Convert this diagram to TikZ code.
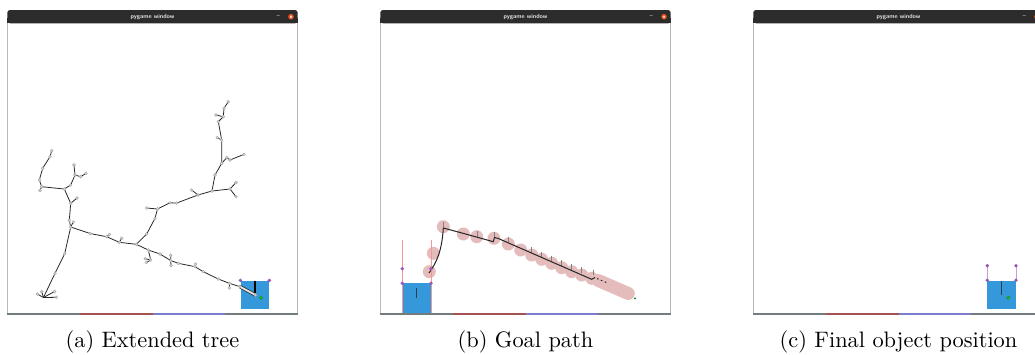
\documentclass[tikz,border=0pt]{standalone}
\usepackage{tikz}
\usetikzlibrary{calc}

\definecolor{pgblue}{RGB}{52,152,219}
\definecolor{pgpurple}{RGB}{155,89,182}
\definecolor{pglilac}{RGB}{200,160,215}
\definecolor{pgpink}{RGB}{228,188,188}
\definecolor{pgsalmon}{RGB}{242,150,150}
\definecolor{pgdark}{RGB}{44,62,80}
\definecolor{pggreen}{RGB}{30,230,30}
\definecolor{titlebar}{RGB}{44,44,44}
\definecolor{bargray}{RGB}{112,124,126}
\definecolor{barred}{RGB}{165,82,82}
\definecolor{barblue}{RGB}{124,124,204}
\definecolor{closeorange}{RGB}{233,84,32}

\tikzset{
  winborder/.style={draw=gray!55, line width=0.45pt},
  titletext/.style={font=\fontsize{2.7}{3}\selectfont\sffamily\bfseries, text=gray!20, inner sep=0pt},
  caption/.style={font=\normalsize, inner sep=0pt, anchor=base},
  treeedge/.style={black!85, line width=0.35pt},
  treenode/.style={fill=gray!12, draw=gray!65, line width=0.3pt},
  corner/.style={fill=pgpurple},
  target/.style={fill=pggreen, draw=green!50!black, line width=0.2pt},
  pathline/.style={black!85, line width=0.45pt},
  tickline/.style={black!50, line width=0.3pt}
}

\begin{document}
\begin{tikzpicture}[x=0.4474pt, y=-0.4474pt]
  \useasboundingbox (0,0) rectangle (1035,354);
  \clip (0,0) rectangle (1035,354);

  % Three pygame windows with captions
  \foreach \wx/\wcap [count=\i] in {7.3/{(a) Extended tree}, 380.3/{(b) Goal path}, 753.3/{(c) Final object position}} {
    \fill[white] (\wx,23.3) rectangle ++(290.4,289.4);
    \draw[winborder] (\wx,23.3) -- (\wx,312.7) (\wx+290.4,23.3) -- (\wx+290.4,312.7);
    \fill[titlebar, rounded corners=1.2] (\wx,23.3) rectangle ++(290.4,-13.3);
    \fill[titlebar] (\wx,18) rectangle ++(290.4,5.3);
    \node[titletext] (title\i) at (\wx+145.2,16.7) {pygame window};
    \node[titletext] (mini\i) at (\wx+271,16.5) {--};
    \fill[closeorange] (\wx+283.7,16.7) circle (2.8);
    \draw[white, line width=0.2pt] (\wx+282.9,15.9) -- (\wx+284.5,17.5) (\wx+282.9,17.5) -- (\wx+284.5,15.9);
    % bottom colour bar
    \foreach \c [count=\k from 0] in {bargray,barred,barblue,bargray}
      \fill[\c] (\wx+72.6*\k,312.7) rectangle ++(72.6,1.8);
    \node[caption] (cap\i) at (\wx+145.2,347.5) {\wcap};
  }

  % ---------- (a) extended tree ----------
  \coordinate (R) at (43.5,297.5);
  \coordinate (r1) at (37.3,294);
  \coordinate (r2) at (41.7,291.7);
  \coordinate (r3) at (54.5,291.5);
  \coordinate (r4) at (56.3,297.3);
  \coordinate (T1) at (55,273.3);
  \coordinate (T2) at (64.7,253.7);
  \coordinate (J) at (70.7,227);
  \coordinate (j1) at (69.3,220.3);
  \coordinate (j2) at (73.3,222);
  \coordinate (U1) at (70.7,203.3);
  \coordinate (u1) at (77,198);
  \coordinate (K) at (64.3,189);
  \coordinate (L1) at (41.7,186.7);
  \coordinate (l1) at (40,190.5);
  \coordinate (L2) at (39.3,180);
  \coordinate (L3) at (42.7,168.3);
  \coordinate (L4) at (50,156.7);
  \coordinate (L5) at (51.7,150.7);
  \coordinate (K1) at (70.7,185);
  \coordinate (K2) at (75,175);
  \coordinate (K3) at (74,165);
  \coordinate (K4) at (80.7,176.7);
  \coordinate (K5) at (86,173.3);
  \coordinate (A1) at (90,233.5);
  \coordinate (A2) at (106.7,236.7);
  \coordinate (a2) at (109.3,234.5);
  \coordinate (A3) at (119.3,242.3);
  \coordinate (a3) at (121.7,238.3);
  \coordinate (M) at (136.3,244.3);
  \coordinate (A5) at (148.3,250);
  \coordinate (d1) at (150.7,260);
  \coordinate (d2) at (146.3,262.5);
  \coordinate (d3) at (145.3,258.7);
  \coordinate (A6) at (160,254);
  \coordinate (A7) at (170.7,260.5);
  \coordinate (a7u) at (170.7,255.3);
  \coordinate (a7d) at (171,265.5);
  \coordinate (A8) at (178.3,263.3);
  \coordinate (A9) at (195,266.7);
  \coordinate (a9) at (195.7,264);
  \coordinate (A10) at (203.3,271.7);
  \coordinate (A11) at (218.3,279);
  \coordinate (A12) at (229.3,283.3);
  \coordinate (a12) at (229.3,288);
  \coordinate (A13) at (240,286.7);
  \coordinate (G) at (255.5,295);
  \coordinate (B1) at (146.7,234);
  \coordinate (B2) at (155,218.3);
  \coordinate (N) at (157.5,209);
  \coordinate (n1) at (146.7,208);
  \coordinate (B3) at (170,202.8);
  \coordinate (B4) at (176.7,203);
  \coordinate (B5) at (198,195);
  \coordinate (b5) at (191.7,190);
  \coordinate (P) at (212,191);
  \coordinate (P1) at (230,189);
  \coordinate (p1) at (236,182.5);
  \coordinate (p3) at (236,196.7);
  \coordinate (P2) at (215,175);
  \coordinate (Q) at (221.7,163.3);
  \coordinate (Q1) at (226.7,157.7);
  \coordinate (Q2) at (230,160);
  \coordinate (Q3) at (244,154.3);
  \coordinate (Q4) at (221.7,140);
  \coordinate (q4) at (217.3,137.7);
  \coordinate (Q5) at (218.3,121.7);
  \coordinate (Q6) at (223.3,116.7);
  \coordinate (q6) at (216,115);
  \coordinate (Q7) at (224,108.3);
  \coordinate (Q8) at (228.3,101.7);

  % goal box (a)
  \fill[pgblue] (240.7,281) rectangle (269.3,309.3);
  \draw[black, line width=0.5pt] (255,281) -- (255,293.3);

  % tree edges
  \draw[treeedge] (R) -- (T1) -- (T2) -- (J) -- (j1) -- (U1) -- (K) -- (L1) -- (L2) -- (L3) -- (L4) -- (L5);
  \foreach \leaf in {r1,r2,r3,r4}
    \draw[treeedge] (R) -- (\leaf);
  \draw[treeedge] (J) -- (j2);
  \draw[treeedge] (U1) -- (u1);
  \draw[treeedge] (L1) -- (l1);
  \draw[treeedge] (K) -- (K1) -- (K2) -- (K3);
  \draw[treeedge] (K2) -- (K4) -- (K5);
  \draw[treeedge] (J) -- (A1) -- (A2) -- (A3) -- (M) -- (A5) -- (A6) -- (A7) -- (A8) -- (A9) -- (A10) -- (A11) -- (A12) -- (A13);
  \draw[treeedge] (A2) -- (a2);
  \draw[treeedge] (A3) -- (a3);
  \draw[treeedge] (A5) -- (d1) -- (d2);
  \draw[treeedge] (d1) -- (d3);
  \draw[treeedge] (a7u) -- (A7) -- (a7d);
  \draw[treeedge] (A9) -- (a9);
  \draw[treeedge] (A12) -- (a12);
  \draw[treeedge] (M) -- (B1) -- (B2) -- (N) -- (B3) -- (B4) -- (B5) -- (P) -- (P1) -- (p1);
  \draw[treeedge] (N) -- (n1);
  \draw[treeedge] (B5) -- (b5);
  \draw[treeedge] (P1) -- (p3);
  \draw[treeedge] (P) -- (P2) -- (Q) -- (Q1) -- (Q2) -- (Q3);
  \draw[treeedge] (Q) -- (Q4) -- (Q5) -- (Q6) -- (Q7) -- (Q8);
  \draw[treeedge] (Q4) -- (q4);
  \draw[treeedge] (Q6) -- (q6);
  % last edge into the goal
  \draw[black!80, line width=1.5pt, line cap=round] (A13) -- (G);
  \draw[gray!20, line width=0.8pt, line cap=round] (A13) -- (G);

  % tree nodes
  \foreach \n in {r1,r2,r3,r4,T1,T2,J,j1,j2,U1,u1,K,L1,l1,L2,L3,L4,L5,K1,K2,K3,K4,K5,
                  A1,A2,a2,A3,a3,M,A5,d1,d2,d3,A6,A7,a7u,a7d,A8,A9,a9,A10,A11,A12,a12,A13,
                  B1,B2,N,n1,B3,B4,B5,b5,P,P1,p1,p3,P2,Q,Q1,Q2,Q3,Q4,q4,Q5,Q6,q6,Q7,Q8,G}
    \filldraw[treenode] (\n) circle (1.3);

  \fill[corner] (240.4,280.4) circle (1.9);
  \fill[corner] (269.3,280.4) circle (1.9);
  \filldraw[target] (261,297.7) circle (1.6);

  % ---------- (b) goal path ----------
  \foreach \cx/\cy in {429.3/271.7, 433.3/253.3, 443.3/226.7, 463.3/234, 476.7/236.7, 494/238.3,
                       508.3/244, 520.7/250, 531.7/255, 541.7/259.3, 551.7/263.3, 561.7/267.7,
                       571.7/271.7, 581.7/275, 591.7/278.3}
    \fill[pgpink] (\cx,\cy) circle (6.5);
  \draw[pgpink, line width=5.8pt, line cap=round] (598.3,280.5) -- (628.3,293.5);
  \filldraw[target] (635,298.3) circle (0.7);

  \foreach \cx/\cy in {443.3/227, 477.3/236.5, 494.7/237, 508.3/242, 531.7/252.5, 541.7/257,
                       551.7/261, 561.7/265.5, 571.7/269.5, 581.7/272.5, 593.3/275}
    \draw[tickline] (\cx,\cy-5.5) -- (\cx,\cy);

  \draw[pathline] (429,273) .. controls (437,262) and (442,250) .. (443.3,228)
    -- (462,233) -- (493.3,241.7) -- (494.5,237.5) -- (498.3,238.5) -- (591.7,279.3) -- (595,277.5);
  \draw[pathline, dash pattern=on 0.7pt off 1.2pt] (597,278.5) -- (606.7,282.7);

  % start box (b)
  \fill[pgblue] (402.3,283.3) rectangle (431,312.7);
  \draw[pgdark, line width=0.6pt] (416.7,288.3) -- (416.7,298.3);
  \draw[pgsalmon, line width=0.4pt] (402.3,240) -- (402.3,312.7) (431,240) -- (431,312.7);
  \foreach \px/\py in {402.3/268.7, 402.3/283.3, 431/268.7, 431/283.3}
    \fill[corner] (\px,\py) circle (1.9);

  % ---------- (c) final object position ----------
  \fill[pgblue] (987.3,281) rectangle (1016,309.3);
  \draw[pgdark, line width=0.6pt] (1001.7,281) -- (1001.7,295);
  \draw[pglilac, line width=0.45pt] (987.3,265.7) -- (987.3,280.3) (1016,265.7) -- (1016,280.3);
  \foreach \px/\py in {987.3/265.7, 987.3/280.3, 1016/265.7, 1016/280.3}
    \fill[corner] (\px,\py) circle (1.9);
  \filldraw[target] (1008.3,297.7) circle (1.6);
\end{tikzpicture}
\end{document}
